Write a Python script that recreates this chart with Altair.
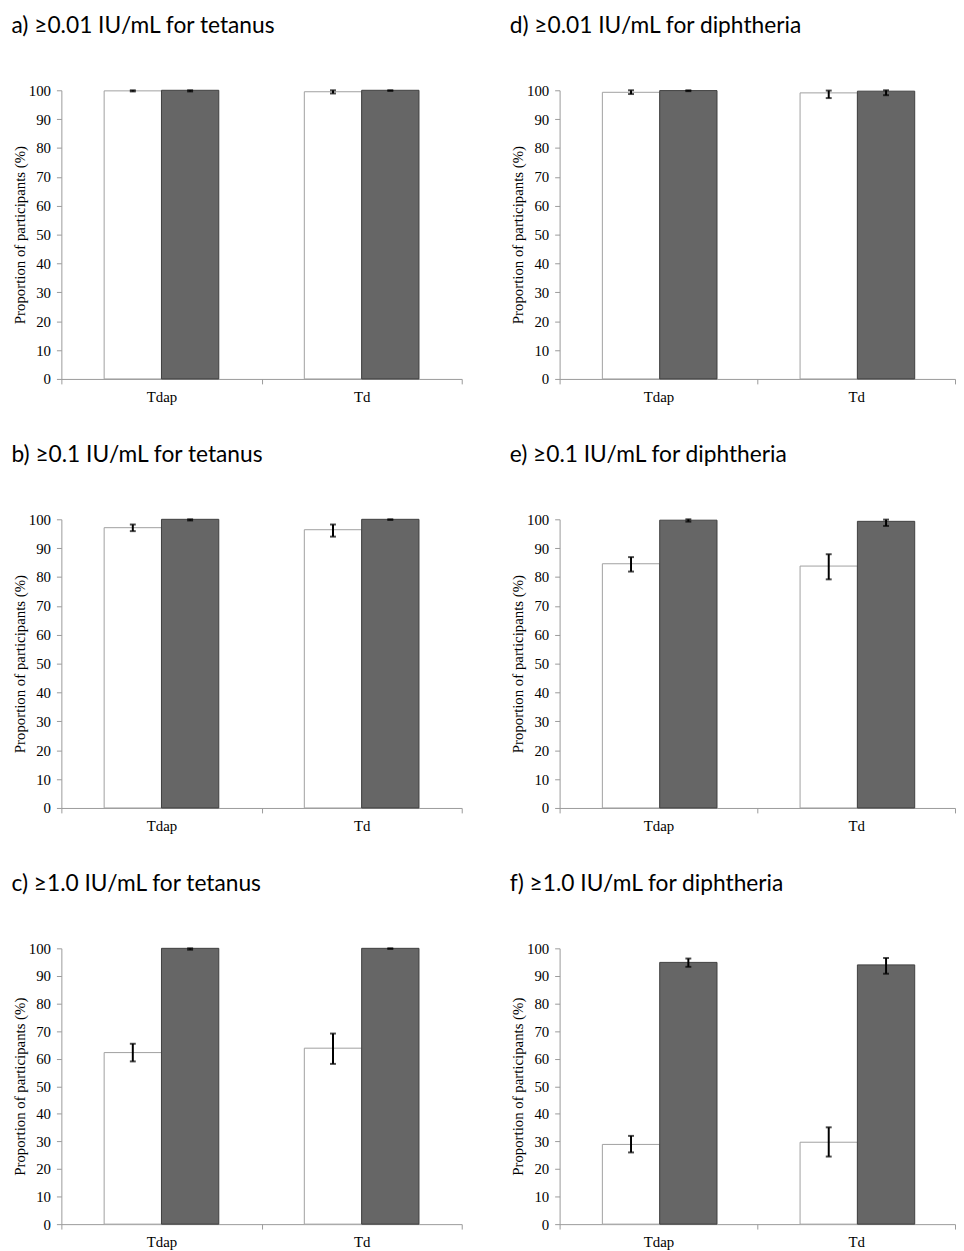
import altair as alt
import pandas as pd

groups = ["Tdap", "Td"]
timepoints = ["Pre", "Post"]

# a) >=0.01 IU/mL tetanus
a_pre = [99.8, 99.5]
a_pre_lo = [99.6, 98.9]
a_pre_hi = [100.0, 100.0]
a_post = [100.0, 100.0]
a_post_lo = [99.6, 99.8]
a_post_hi = [100.0, 100.0]

# b) >=0.1 IU/mL tetanus
b_pre = [97.1, 96.4]
b_pre_lo = [95.9, 94.0]
b_pre_hi = [98.2, 98.2]
b_post = [100.0, 100.0]
b_post_lo = [99.6, 99.8]
b_post_hi = [100.0, 100.0]

# c) >=1.0 IU/mL tetanus
c_pre = [62.2, 63.8]
c_pre_lo = [59.0, 58.1]
c_pre_hi = [65.4, 69.1]
c_post = [100.0, 100.0]
c_post_lo = [99.5, 99.8]
c_post_hi = [100.0, 100.0]

# d) >=0.01 IU/mL diphtheria
d_pre = [99.3, 99.1]
d_pre_lo = [98.7, 97.3]
d_pre_hi = [100.0, 99.9]
d_post = [99.9, 99.7]
d_post_lo = [99.7, 98.3]
d_post_hi = [100.0, 100.0]

# e) >=0.1 IU/mL diphtheria
e_pre = [84.6, 83.8]
e_pre_lo = [81.9, 79.2]
e_pre_hi = [86.9, 87.9]
e_post = [99.7, 99.3]
e_post_lo = [99.2, 97.7]
e_post_hi = [100.0, 99.9]

# f) >=1.0 IU/mL diphtheria
f_pre = [28.9, 29.7]
f_pre_lo = [26.0, 24.5]
f_pre_hi = [32.0, 35.1]
f_post = [94.9, 94.0]
f_post_lo = [93.3, 90.8]
f_post_hi = [96.3, 96.5]

titles = {
    "a": "a) \u22650.01 IU/mL for tetanus",
    "b": "b) \u22650.1 IU/mL for tetanus",
    "c": "c) \u22651.0 IU/mL for tetanus",
    "d": "d) \u22650.01 IU/mL for diphtheria",
    "e": "e) \u22650.1 IU/mL for diphtheria",
    "f": "f) \u22651.0 IU/mL for diphtheria",
}
y_title = "Proportion of participants (%)"


def panel(title, pre, pre_lo, pre_hi, post, post_lo, post_hi, width, height):
    rows = []
    for i, g in enumerate(groups):
        rows.append(dict(group=g, time="Pre", value=pre[i], lo=pre_lo[i], hi=pre_hi[i]))
        rows.append(dict(group=g, time="Post", value=post[i], lo=post_lo[i], hi=post_hi[i]))
    df = pd.DataFrame(rows)
    base = alt.Chart(df).encode(
        x=alt.X(
            "group:N",
            sort=groups,
            title=None,
            scale=alt.Scale(paddingInner=0, paddingOuter=0),
            axis=alt.Axis(
                labelAngle=0,
                tickBand="extent",
                tickSize=5,
                labelPadding=6,
                domainColor="#9a9a9a",
                tickColor="#9a9a9a",
                labelFontSize=15,
            ),
        ),
        xOffset=alt.XOffset("time:N", sort=timepoints,
                            scale=alt.Scale(paddingInner=0, paddingOuter=0.746)),
    )
    yscale = alt.Scale(domain=[0, 100], nice=False)
    yaxis = alt.Axis(values=list(range(0, 101, 10)), tickSize=5,
                     labelPadding=6, titlePadding=1,
                     domainColor="#9a9a9a", tickColor="#9a9a9a",
                     grid=False, labelFontSize=15, titleFontSize=15)
    bars = base.mark_bar(strokeWidth=1).encode(
        y=alt.Y("value:Q", scale=yscale, title=y_title, axis=yaxis),
        color=alt.Color("time:N", scale=alt.Scale(domain=timepoints, range=["#ffffff", "#666666"]), legend=None),
        stroke=alt.Stroke("time:N", scale=alt.Scale(domain=timepoints, range=["#a0a0a0", "#404040"]), legend=None),
    )
    err = base.mark_rule(color="black", strokeWidth=2).encode(
        y=alt.Y("lo:Q", scale=yscale, title=y_title, axis=yaxis), y2="hi:Q"
    )
    cap_lo = base.mark_tick(color="black", size=6, thickness=2).encode(
        y=alt.Y("lo:Q", scale=yscale, title=y_title, axis=yaxis)
    )
    cap_hi = base.mark_tick(color="black", size=6, thickness=2).encode(
        y=alt.Y("hi:Q", scale=yscale, title=y_title, axis=yaxis)
    )
    return alt.layer(bars, err, cap_lo, cap_hi).properties(
        width=width,
        height=height,
        title=alt.Title(title, anchor="start", dx=-1, offset=46, fontSize=23,
                        font="Lato", fontWeight="normal", color="#000000"),
    )


pa = panel(titles["a"], a_pre, a_pre_lo, a_pre_hi, a_post, a_post_lo, a_post_hi, 405, 292)
pb = panel(titles["b"], b_pre, b_pre_lo, b_pre_hi, b_post, b_post_lo, b_post_hi, 405, 292)
pc = panel(titles["c"], c_pre, c_pre_lo, c_pre_hi, c_post, c_post_lo, c_post_hi, 405, 279)
pd_ = panel(titles["d"], d_pre, d_pre_lo, d_pre_hi, d_post, d_post_lo, d_post_hi, 400, 292)
pe = panel(titles["e"], e_pre, e_pre_lo, e_pre_hi, e_post, e_post_lo, e_post_hi, 400, 292)
pf = panel(titles["f"], f_pre, f_pre_lo, f_pre_hi, f_post, f_post_lo, f_post_hi, 400, 279)

chart = alt.vconcat(
    alt.hconcat(pa, pd_, spacing=47),
    alt.hconcat(pb, pe, spacing=47),
    alt.hconcat(pc, pf, spacing=47),
    spacing=40,
).properties(
    padding={"left": 3, "top": 0, "right": 0, "bottom": 0}
).configure_view(
    stroke=None
).configure_axis(
    labelFont="Liberation Serif",
    titleFont="Liberation Serif",
    labelColor="#000000",
    titleColor="#000000",
    titleFontWeight="normal",
).configure_concat(spacing=47)

chart.save("out.html", embed_options={"renderer": "svg", "actions": False})
